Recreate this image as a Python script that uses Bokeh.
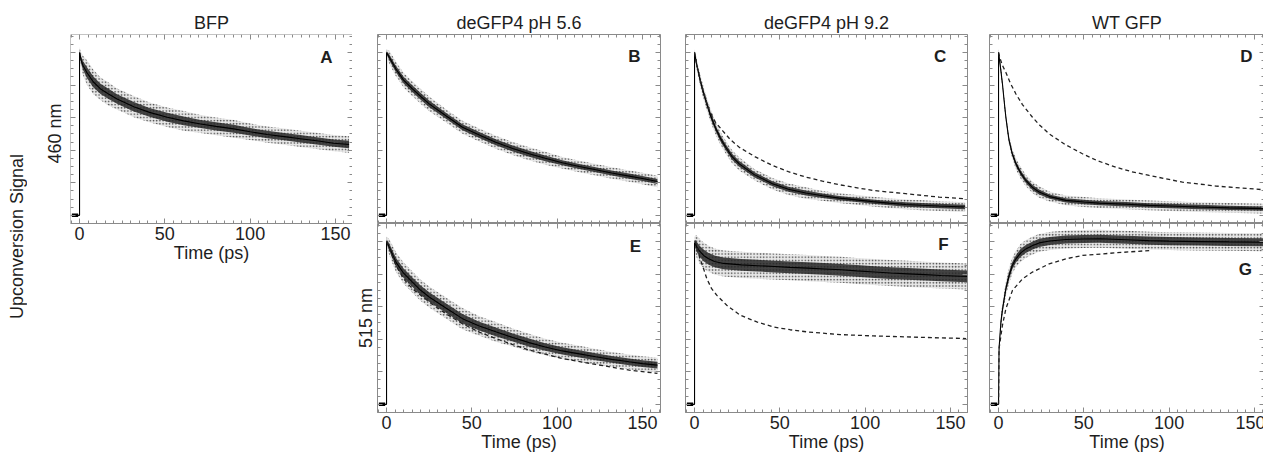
from bokeh.plotting import figure
from bokeh.layouts import row, column
from bokeh.models import Range1d, LinearAxis, SingleIntervalTicker, FixedTicker, Label
from bokeh.embed import file_html
from bokeh.resources import INLINE

# ---------------- data ----------------
titles = ["BFP", "deGFP4 pH 5.6", "deGFP4 pH 9.2", "WT GFP"]
panel_letters = ["A", "B", "C", "D", "E", "F", "G"]
row_labels = ["460 nm", "515 nm"]
y_title = "Upconversion Signal"
x_title = "Time (ps)"

t_pre = [-4.5, -0.8]          # pre time-zero baseline
sig_pre = [0.0, 0.0]

# A: BFP 460 nm
tA = [0, 1, 2, 4.3, 8, 12.3, 17, 22, 31.8, 41, 51.4, 61, 71, 80, 90.4, 100, 110, 120, 129.5, 140, 149, 158]
sigA = [1.00, 0.95, 0.92, 0.877, 0.82, 0.776, 0.745, 0.714, 0.667, 0.632, 0.602, 0.580, 0.561, 0.546,
        0.531, 0.513, 0.496, 0.483, 0.470, 0.456, 0.443, 0.435]
noiseA = [0.03, 0.05, 0.06, 0.075, 0.075, 0.07, 0.07, 0.065, 0.065, 0.06, 0.06, 0.06, 0.055, 0.055,
          0.055, 0.05, 0.05, 0.05, 0.05, 0.05, 0.05, 0.05]

# B: deGFP4 pH 5.6, 460 nm
tB = [0, 1.6, 5.5, 10, 15.2, 20, 25, 35, 44.5, 55, 64, 74, 83.6, 93, 103, 113, 122.6, 132, 142.2, 150, 158.8]
sigB = [1.0, 0.97, 0.898, 0.83, 0.776, 0.73, 0.684, 0.61, 0.541, 0.49, 0.449, 0.41, 0.378, 0.35,
        0.323, 0.30, 0.280, 0.26, 0.241, 0.226, 0.208]
noiseB = [0.02, 0.04, 0.045, 0.045, 0.045, 0.045, 0.045, 0.04, 0.04, 0.04, 0.04, 0.04, 0.04, 0.04,
          0.035, 0.035, 0.035, 0.035, 0.035, 0.035, 0.035]

# C: deGFP4 pH 9.2, 460 nm
tC = [0, 1, 2.7, 4.5, 6.6, 9.5, 12.5, 15.3, 18.3, 22, 26.2, 35, 45.7, 55, 65.2, 75, 84.8, 95, 104.3,
      114, 123.8, 133, 143.4, 158.6]
sigC = [1.0, 0.94, 0.857, 0.78, 0.704, 0.61, 0.531, 0.47, 0.418, 0.36, 0.316, 0.25, 0.194, 0.16,
        0.137, 0.12, 0.106, 0.095, 0.084, 0.075, 0.067, 0.062, 0.057, 0.051]
noiseC = [0.02, 0.03, 0.035, 0.04, 0.04, 0.04, 0.04, 0.04, 0.04, 0.04, 0.04, 0.035, 0.035, 0.035,
          0.035, 0.03, 0.03, 0.03, 0.03, 0.03, 0.03, 0.03, 0.03, 0.03]
tC_dash = [0, 1, 2.7, 4.5, 6.6, 8.6, 12, 16.4, 21, 26.2, 35.9, 45.7, 55, 65.2, 75, 84.8, 104.3, 123.8, 143.4, 158.6]
sigC_dash = [1.0, 0.94, 0.857, 0.78, 0.71, 0.645, 0.575, 0.52, 0.465, 0.418, 0.357, 0.306, 0.268,
             0.235, 0.21, 0.188, 0.153, 0.133, 0.112, 0.102]

# D: WT GFP, 460 nm
tD = [0, 1, 2.3, 3.3, 4.3, 5.2, 6.2, 8, 10.2, 13, 16, 20, 23.8, 30, 39.4, 50, 59, 75, 88, 100, 117.6, 135, 155.7]
sigD = [1.0, 0.92, 0.806, 0.70, 0.602, 0.53, 0.459, 0.38, 0.316, 0.26, 0.214, 0.17, 0.143, 0.115,
        0.092, 0.082, 0.075, 0.068, 0.061, 0.057, 0.051, 0.046, 0.041]
noiseD = [0.02, 0.03, 0.03, 0.03, 0.03, 0.03, 0.03, 0.03, 0.035, 0.035, 0.035, 0.035, 0.035, 0.03,
          0.03, 0.03, 0.03, 0.03, 0.03, 0.03, 0.03, 0.03, 0.03]
tD_dash = [0, 1, 2.3, 4.3, 7, 10.2, 14, 19.9, 24, 29.7, 39, 49.2, 58, 68.7, 78, 88.3, 107.8, 127.4, 155.7]
sigD_dash = [1.0, 0.96, 0.92, 0.877, 0.81, 0.745, 0.68, 0.602, 0.555, 0.500, 0.435, 0.378, 0.335,
             0.296, 0.268, 0.245, 0.204, 0.180, 0.157]

# E: deGFP4 pH 5.6, 515 nm
tE = [0, 1.6, 5.5, 10, 15.2, 20, 25, 35, 44.5, 54, 64, 74, 83.6, 93, 103, 113, 122.6, 132, 142.2, 150, 158.8]
sigE = [1.0, 0.965, 0.873, 0.805, 0.750, 0.70, 0.659, 0.59, 0.526, 0.482, 0.445, 0.41, 0.379, 0.352,
        0.328, 0.31, 0.292, 0.276, 0.261, 0.25, 0.241]
noiseE = [0.03, 0.05, 0.06, 0.065, 0.065, 0.065, 0.065, 0.065, 0.065, 0.06, 0.06, 0.055, 0.055, 0.05,
          0.05, 0.05, 0.048, 0.045, 0.045, 0.045, 0.045]
tE_dash = [0, 1.6, 5.5, 10, 15.2, 25, 35, 44.5, 54, 64, 74, 83.6, 103, 122.6, 142.2, 158.8]
sigE_dash = [1.0, 0.96, 0.853, 0.77, 0.71, 0.628, 0.555, 0.495, 0.445, 0.404, 0.367, 0.333, 0.281,
             0.245, 0.210, 0.190]

# F: deGFP4 pH 9.2, 515 nm
tF = [0, 0.7, 1.4, 3, 5.3, 8, 11.7, 17, 27.4, 37, 46.9, 56, 66.4, 76, 86, 95, 105.5, 115, 125, 135, 144.6, 159.8]
sigF = [0.99, 0.98, 0.965, 0.94, 0.914, 0.895, 0.877, 0.865, 0.856, 0.851, 0.846, 0.841, 0.836, 0.831,
        0.826, 0.819, 0.812, 0.806, 0.801, 0.796, 0.791, 0.785]
noiseF = [0.04, 0.06, 0.07, 0.075, 0.08, 0.08, 0.08, 0.08, 0.08, 0.08, 0.08, 0.08, 0.08, 0.08, 0.08,
          0.08, 0.08, 0.08, 0.08, 0.08, 0.08, 0.08]
tF_dash = [0, 1.4, 3, 5.3, 7.2, 10, 13.1, 18.9, 26.8, 36.5, 46.3, 56, 65.8, 85.4, 104.9, 124.4, 143.9, 159.2]
sigF_dash = [1.0, 0.975, 0.90, 0.832, 0.771, 0.71, 0.669, 0.608, 0.547, 0.506, 0.475, 0.458, 0.445,
             0.428, 0.420, 0.414, 0.408, 0.404]

# G: WT GFP, 515 nm (rise)
tG = [0, 0.3, 1.4, 2.3, 3.3, 4.5, 6.2, 8, 10.2, 13, 16, 20, 23.8, 30, 39.4, 50, 59, 75, 88, 100, 117.6, 135, 155.7]
sigG = [0.0, 0.343, 0.506, 0.58, 0.648, 0.72, 0.791, 0.85, 0.893, 0.93, 0.954, 0.975, 0.991, 1.003,
        1.012, 1.015, 1.016, 1.01, 1.005, 1.002, 0.999, 0.997, 0.995]
noiseG = [0.0, 0.03, 0.04, 0.04, 0.04, 0.045, 0.05, 0.05, 0.05, 0.055, 0.055, 0.055, 0.055, 0.055,
          0.055, 0.055, 0.055, 0.055, 0.055, 0.055, 0.055, 0.055, 0.055]
tG_dash = [0, 0.3, 2.3, 4.3, 8.2, 14.1, 19.9, 29.7, 39.4, 49.2, 68.7, 88.3]
sigG_dash = [0.0, 0.343, 0.486, 0.587, 0.700, 0.771, 0.812, 0.862, 0.893, 0.914, 0.930, 0.944]

# ---------------- styling ----------------
FONT = "Liberation Sans"
GRAY = "#8a8a8a"
TXT = "#1e1e1e"
X0 = -5.3
Y0, Y1 = -0.05, 1.11
PX_PER_PS = 282 / (160 - X0)
FRAME_H = 189
PX_PER_UNIT = FRAME_H / (Y1 - Y0)
PAGE_H = 456

X_MAJ = [0, 50, 100, 150]
X_MIN = [-5 + 5 * i for i in range(34)]
Y_MAJ = [round(0.2 * i, 3) for i in range(6)]
Y_MIN = [round(-0.05 + 0.05 * i, 3) for i in range(24)]


def text_props(ax):
    ax.axis_label_text_font = FONT
    ax.axis_label_text_font_size = "18px"
    ax.axis_label_text_font_style = "normal"
    ax.axis_label_text_color = TXT


def tick_axis(p, side, ticks, length, fixed=None, line=True, bounds=None):
    ax = LinearAxis(ticker=FixedTicker(ticks=[], minor_ticks=ticks))
    ax.axis_line_color = GRAY if line else None
    ax.minor_tick_line_color = GRAY
    ax.major_tick_line_color = None
    ax.minor_tick_in = length
    ax.minor_tick_out = 0
    ax.major_tick_in = 0
    ax.major_tick_out = 0
    if fixed is not None:
        ax.fixed_location = fixed
    if bounds is not None:
        ax.bounds = bounds
    p.add_layout(ax, side)


def label_axis(p, side, text, standoff, tick_pos):
    # an axis that only carries a title (centred on the plot frame)
    ax = LinearAxis(ticker=FixedTicker(ticks=[], minor_ticks=[tick_pos]))
    ax.axis_line_color = None
    ax.minor_tick_line_color = None
    ax.major_tick_line_color = None
    ax.minor_tick_in = 0
    ax.minor_tick_out = 0
    ax.major_tick_in = 0
    ax.major_tick_out = 0
    ax.axis_label = text
    ax.axis_label_standoff = standoff
    text_props(ax)
    p.add_layout(ax, side)


def labeled_x_axis(p, fixed=None):
    ax = LinearAxis(ticker=SingleIntervalTicker(interval=50, num_minor_ticks=10))
    ax.axis_line_color = GRAY
    ax.major_tick_line_color = GRAY
    ax.minor_tick_line_color = GRAY
    ax.major_tick_in = 5
    ax.major_tick_out = 0
    ax.minor_tick_in = 3
    ax.minor_tick_out = 0
    ax.major_label_text_font = FONT
    ax.major_label_text_font_size = "18px"
    ax.major_label_text_color = TXT
    ax.major_label_standoff = 3
    ax.axis_label = x_title
    ax.axis_label_standoff = 0
    text_props(ax)
    if fixed is not None:
        ax.fixed_location = fixed
    p.add_layout(ax, "below")


def panel(frame_w, bl, br, bt, bb, title=None, x_labels=False, extra_h=0):
    x1 = X0 + frame_w / PX_PER_PS
    ystart = Y0 - extra_h / PX_PER_UNIT
    p = figure(frame_width=frame_w, frame_height=FRAME_H + extra_h,
               x_range=Range1d(X0, x1), y_range=Range1d(ystart, Y1),
               x_axis_location=None, y_axis_location=None,
               min_border_left=bl, min_border_right=br, min_border_top=bt, min_border_bottom=bb,
               output_backend="svg", toolbar_location=None)
    p.grid.visible = False
    p.outline_line_color = None if extra_h else GRAY
    p.background_fill_color = "white"
    p.border_fill_color = "white"
    if title:
        p.title.text = title
        p.title.align = "center"
        p.title.text_font = FONT
        p.title.text_font_size = "18px"
        p.title.text_font_style = "normal"
        p.title.text_color = TXT
        p.title.standoff = 3
    b = (Y0, Y1)
    tick_axis(p, "left", Y_MAJ, 5, fixed=X0, bounds=b)
    tick_axis(p, "left", Y_MIN, 3, fixed=X0, line=False, bounds=b)
    tick_axis(p, "right", Y_MAJ, 5, fixed=x1, bounds=b)
    tick_axis(p, "right", Y_MIN, 3, fixed=x1, line=False, bounds=b)
    tick_axis(p, "above", X_MAJ, 5, fixed=Y1)
    tick_axis(p, "above", X_MIN, 3, fixed=Y1, line=False)
    if x_labels:
        labeled_x_axis(p, fixed=Y0 if extra_h else None)
    else:
        tick_axis(p, "below", X_MAJ, 5, fixed=Y0)
        tick_axis(p, "below", X_MIN, 3, fixed=Y0, line=False)
    return p


def draw(p, t, sig, noise, letter, lx, ly, t_dash=None, sig_dash=None):
    lo_out = [s - n for s, n in zip(sig, noise)]
    hi_out = [s + n for s, n in zip(sig, noise)]
    lo_in = [s - 0.45 * n for s, n in zip(sig, noise)]
    hi_in = [s + 0.45 * n for s, n in zip(sig, noise)]
    p.varea(x=t, y1=lo_out, y2=hi_out, fill_color="#bdbdbd", fill_alpha=0.35,
            hatch_pattern="dot", hatch_color="#111111", hatch_alpha=0.75, hatch_scale=3.2, hatch_weight=1)
    p.varea(x=t, y1=lo_in, y2=hi_in, fill_color="#262626", fill_alpha=0.85)
    p.line(t_pre, sig_pre, line_color="black", line_width=3.5)
    p.line(t_pre + [0] + t, sig_pre + [0.0] + sig, line_color="black", line_width=1.1)
    if t_dash is not None:
        p.line(t_dash, sig_dash, line_color="#222222", line_width=1.3, line_dash="4 3")
    p.add_layout(Label(x=lx, y=ly, text=letter, text_align="center", text_baseline="middle",
                       text_font=FONT, text_font_size="17px", text_font_style="bold", text_color=TXT))


def strip(border_left, center_y, text):
    # narrow, empty strip whose 100 px frame is centred at center_y; carries one vertical title
    top = center_y - 50
    s = figure(frame_width=1, frame_height=100, x_range=Range1d(0, 1), y_range=Range1d(0, 1),
               min_border_left=border_left, min_border_right=0,
               min_border_top=top, min_border_bottom=PAGE_H - top - 100,
               x_axis_location=None, y_axis_location=None,
               output_backend="svg", toolbar_location=None)
    s.outline_line_color = None
    s.grid.visible = False
    s.border_fill_color = "white"
    label_axis(s, "left", text, 0, 0.5)
    return s


pY = strip(26, 236, y_title)        # x 0..27
pL = strip(37, 133, row_labels[0])  # x 27..65

# column 1 (A): frame runs to the page bottom, x axis pinned under the data
pA = panel(282, 5, 0, 34, 0, title=titles[0], x_labels=True, extra_h=PAGE_H - 34 - FRAME_H)
draw(pA, tA, sigA, noiseA, panel_letters[0], 144.7, 0.967)

# column 2 (B / E)
pB = panel(283, 23, 12, 34, 0, title=titles[1])
draw(pB, tB, sigB, noiseB, panel_letters[1], 145.3, 0.975)
pE = panel(283, 23, 12, 0, 44, x_labels=True)
label_axis(pE, "left", row_labels[1], 2, 0.5)
draw(pE, tE, sigE, noiseE, panel_letters[4], 145.9, 0.97, tE_dash, sigE_dash)

# column 3 (C / F)
pC = panel(282, 13, 10, 34, 0, title=titles[2])
draw(pC, tC, sigC, noiseC, panel_letters[2], 144.0, 0.975, tC_dash, sigC_dash)
pF = panel(282, 13, 10, 0, 44, x_labels=True)
draw(pF, tF, sigF, noiseF, panel_letters[5], 145.9, 0.98, tF_dash, sigF_dash)

# column 4 (D / G)
pD = panel(275, 12, 1, 34, 0, title=titles[3])
draw(pD, tD, sigD, noiseD, panel_letters[3], 145.3, 0.975, tD_dash, sigD_dash)
pG = panel(275, 12, 1, 0, 44, x_labels=True)
draw(pG, tG, sigG, noiseG, panel_letters[6], 144.7, 0.827, tG_dash, sigG_dash)

layout = row(column(pY), column(pL), column(pA), column(pB, pE), column(pC, pF), column(pD, pG))

open("out.html", "w").write(file_html(layout, INLINE))
